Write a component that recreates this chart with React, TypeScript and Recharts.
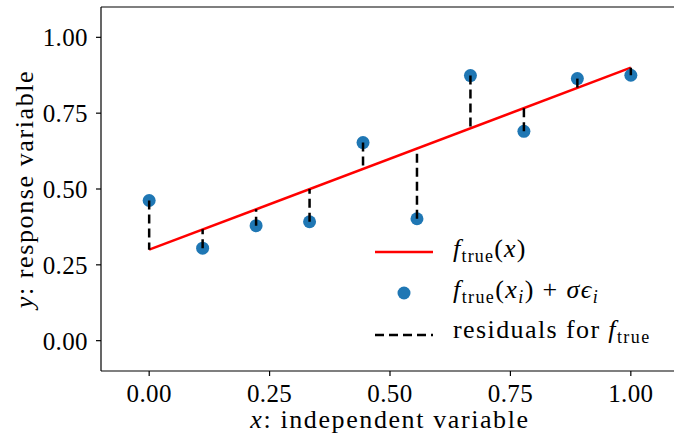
import React from 'react';
import { ComposedChart, Line, Scatter, XAxis, YAxis, Legend, ReferenceLine } from 'recharts';

// sample points
const xValues = [0, 0.111, 0.222, 0.333, 0.444, 0.556, 0.667, 0.778, 0.889, 1.0];
const observed = [0.462, 0.305, 0.379, 0.392, 0.653, 0.402, 0.874, 0.69, 0.864, 0.875];
// f_true evaluated at each x (other end of each residual)
const trueAtX = [0.3, 0.367, 0.433, 0.5, 0.567, 0.633, 0.7, 0.767, 0.833, 0.9];
// the true line itself
const lineX = [0, 1];
const lineY = [0.3, 0.9];

const xTicks = [0, 0.25, 0.5, 0.75, 1];
const yTicks = [0, 0.25, 0.5, 0.75, 1];

const FONT = 'Liberation Serif, DejaVu Serif, serif';
const BLUE = '#1f77b4';

const points = xValues.map((x, i) => ({ x, y: observed[i] }));
const trueLine = lineX.map((x, i) => ({ x, y: lineY[i] }));
const residuals = xValues.map((x, i) => [
  { x, y: observed[i] },
  { x, y: trueAtX[i] },
]);

const Dot = (props: any) => <circle cx={props.cx} cy={props.cy} r={6.5} fill={BLUE} />;

const Sub = ({ children }: { children: React.ReactNode }) => (
  <tspan fontSize={18} dy={5}>
    {children}
  </tspan>
);

const LegendBox = () => (
  <svg width={304} height={130} style={{ display: 'block', fontFamily: FONT }}>
    <line x1={5} x2={63} y1={27} y2={27} stroke="#ff0000" strokeWidth={2.5} />
    <circle cx={34} cy={68} r={6.5} fill={BLUE} />
    <line x1={5} x2={63} y1={110} y2={110} stroke="#000" strokeWidth={2.5} strokeDasharray="9 5" />
    <text x={83} y={32} fontSize={26} fill="#000" letterSpacing={1.2}>
      <tspan fontStyle="italic">f</tspan>
      <Sub>true</Sub>
      <tspan dy={-5}>(</tspan>
      <tspan fontStyle="italic">x</tspan>
      <tspan>)</tspan>
    </text>
    <text x={83} y={73} fontSize={26} fill="#000" letterSpacing={1.4}>
      <tspan fontStyle="italic">f</tspan>
      <Sub>true</Sub>
      <tspan dy={-5}>(</tspan>
      <tspan fontStyle="italic">x</tspan>
      <tspan fontSize={18} fontStyle="italic" dy={5}>i</tspan>
      <tspan dy={-5}>) + </tspan>
      <tspan fontStyle="italic">σϵ</tspan>
      <tspan fontSize={18} fontStyle="italic" dy={5}>i</tspan>
    </text>
    <text x={83} y={113} fontSize={26} fill="#000" letterSpacing={1.4}>
      <tspan>residuals for </tspan>
      <tspan fontStyle="italic">f</tspan>
      <Sub>true</Sub>
    </text>
  </svg>
);

const tickStyle = { fill: '#000', fontSize: 25, fontFamily: FONT, letterSpacing: 0.4 };

export default function App() {
  return (
    <div style={{ position: 'absolute', left: 0, top: 0, width: 674, height: 440, overflow: 'hidden', background: '#fff' }}>
      <ComposedChart width={680} height={440} margin={{ top: 7, right: 1, bottom: 0, left: 0 }}>
        <XAxis
          dataKey="x"
          type="number"
          domain={[-0.1, 1.1]}
          ticks={xTicks}
          tickFormatter={(v: number) => v.toFixed(2)}
          allowDataOverflow
          height={69}
          tickSize={5}
          tickMargin={8}
          tick={tickStyle}
          axisLine={{ stroke: '#000', strokeWidth: 1.2 }}
          tickLine={{ stroke: '#000', strokeWidth: 1.2 }}
          label={{
            content: () => (
              <text x={390} y={428} textAnchor="middle" fontSize={26} fontFamily={FONT} fill="#000" letterSpacing={1.6}>
                <tspan fontStyle="italic">x</tspan>: independent variable
              </text>
            ),
          }}
        />
        <YAxis
          dataKey="y"
          type="number"
          domain={[-0.1, 1.1]}
          ticks={yTicks}
          tickFormatter={(v: number) => v.toFixed(2)}
          allowDataOverflow
          width={101}
          tickSize={5}
          tickMargin={8}
          tick={tickStyle}
          axisLine={{ stroke: '#000', strokeWidth: 1.2 }}
          tickLine={{ stroke: '#000', strokeWidth: 1.2 }}
          label={{
            content: () => (
              <text
                x={33}
                y={189}
                transform="rotate(-90 33 189)"
                textAnchor="middle"
                fontSize={26}
                fontFamily={FONT}
                fill="#000"
                letterSpacing={1.6}
              >
                <tspan fontStyle="italic">y</tspan>: response variable
              </text>
            ),
          }}
        />
        {/* top spine */}
        <ReferenceLine y={1.1} stroke="#000" strokeWidth={1.2} />
        <Line
          data={trueLine}
          dataKey="y"
          stroke="#ff0000"
          strokeWidth={2.5}
          dot={false}
          activeDot={false}
          isAnimationActive={false}
          legendType="none"
        />
        <Scatter data={points} dataKey="y" shape={Dot} isAnimationActive={false} legendType="none" />
        {residuals.map((seg, i) => (
          <Line
            key={i}
            data={seg}
            dataKey="y"
            stroke="#000"
            strokeWidth={2.5}
            strokeDasharray="9 5"
            dot={false}
            activeDot={false}
            isAnimationActive={false}
            legendType="none"
            zIndex={700}
          />
        ))}
        <Legend
          layout="vertical"
          align="center"
          verticalAlign="middle"
          content={() => <LegendBox />}
          wrapperStyle={{ left: 370, top: 225, width: 304, height: 130 }}
        />
      </ComposedChart>
    </div>
  );
}
